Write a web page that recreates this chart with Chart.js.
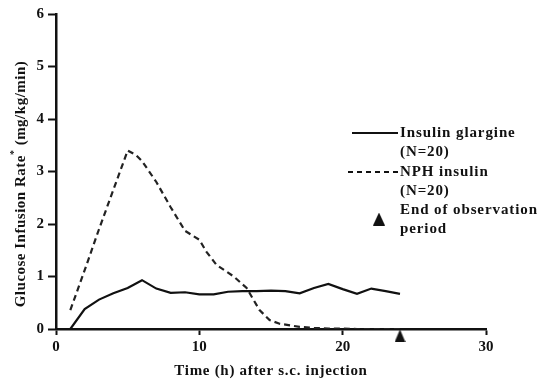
<!DOCTYPE html>
<html>
<head>
<meta charset="utf-8">
<script src="https://cdn.jsdelivr.net/npm/chart.js@4/dist/chart.umd.min.js"></script>
<style>
html,body{margin:0;padding:0;background:#fff;}
#c{display:block;}
</style>
</head>
<body>
<canvas id="c" width="540" height="381"></canvas>
<script>
const hours = [0,1,2,3,4,5,6,7,8,9,10,11,12,13,14,15,16,17,18,19,20,21,22,23,24];
const glargine = [0,0,0.38,0.56,0.68,0.78,0.93,0.77,0.69,0.70,0.66,0.66,0.71,0.72,0.72,0.73,0.72,0.68,0.78,0.86,0.76,0.67,0.77,0.72,0.67];
const nphHours = [1,2,3,4,5,5.6,6,7,8,9,10,10.5,11.2,12.4,13.3,14.2,14.9,15.6,17,18,19,20,21,22,23,24];
const nph = [0.36,1.12,1.90,2.65,3.40,3.31,3.20,2.80,2.32,1.87,1.70,1.47,1.22,1.00,0.78,0.36,0.17,0.10,0.04,0.02,0.01,0.01,0,0,0,0];
const endObservation = [{x:24, y:-0.13}];
const xTicks = [0,10,20,30];
const yTicks = [0,1,2,3,4,5,6];
const legendItems = [
  {kind:'solid', lines:['Insulin glargine','(N=20)']},
  {kind:'dash', lines:['NPH insulin','(N=20)']},
  {kind:'tri', lines:['End of observation','period']}
];
const xTitle = 'Time (h) after s.c. injection';
const yTitleParts = ['Glucose Infusion Rate', '*', ' (mg/kg/min)'];

const FONT = '"Liberation Serif", "Times New Roman", serif';

function makeTriangle(w, h) {
  const cv = document.createElement('canvas');
  cv.width = w; cv.height = h;
  const g = cv.getContext('2d');
  g.fillStyle = '#111';
  g.beginPath();
  g.moveTo(w/2, 0); g.lineTo(w, h); g.lineTo(0, h); g.closePath();
  g.fill();
  return cv;
}
const triImg = makeTriangle(11, 13);

const overlay = {
  id:'overlay',
  afterDraw(chart){
    const ctx = chart.ctx;
    ctx.save();
    ctx.fillStyle = '#111';
    ctx.strokeStyle = '#111';
    const ca = chart.chartArea;
    // x title
    ctx.font = 'bold 15px ' + FONT;
    ctx.letterSpacing = '0.7px';
    ctx.textAlign = 'center';
    ctx.textBaseline = 'middle';
    ctx.fillText(xTitle, (ca.left + ca.right)/2, 371);
    // y title rotated
    ctx.save();
    ctx.translate(21, 184);
    ctx.rotate(-Math.PI/2);
    ctx.letterSpacing = '0.5px';
    ctx.textAlign = 'left';
    ctx.font = 'bold 15px ' + FONT;
    const w0 = ctx.measureText(yTitleParts[0]).width;
    ctx.font = 'bold 10px ' + FONT;
    const w1 = ctx.measureText(yTitleParts[1]).width;
    ctx.font = 'bold 15px ' + FONT;
    const w2 = ctx.measureText(yTitleParts[2]).width;
    let x = -(w0 + w1 + w2)/2;
    ctx.fillText(yTitleParts[0], x, 0); x += w0;
    ctx.font = 'bold 10px ' + FONT;
    ctx.fillText(yTitleParts[1], x, -7); x += w1;
    ctx.font = 'bold 15px ' + FONT;
    ctx.fillText(yTitleParts[2], x, 0);
    ctx.restore();
    // legend
    ctx.font = 'bold 15px ' + FONT;
    ctx.letterSpacing = '0.9px';
    ctx.textAlign = 'left';
    ctx.textBaseline = 'middle';
    const rows = [133, 172, 210];
    legendItems.forEach((item, k) => {
      const y = rows[k];
      if (item.kind === 'solid') {
        ctx.lineWidth = 2; ctx.setLineDash([]);
        ctx.beginPath(); ctx.moveTo(352, y); ctx.lineTo(398, y); ctx.stroke();
      } else if (item.kind === 'dash') {
        ctx.lineWidth = 2; ctx.setLineDash([5,4]);
        ctx.beginPath(); ctx.moveTo(348, y); ctx.lineTo(398, y); ctx.stroke();
        ctx.setLineDash([]);
      } else {
        ctx.drawImage(makeTriangle(12, 13), 379 - 6, 219 - 6.5);
      }
      item.lines.forEach((t, i) => ctx.fillText(t, 400, y + i*19.5));
    });
    ctx.restore();
  }
};

const tickFont = {family: FONT, size: 15, weight: 'bold'};

new Chart(document.getElementById('c'), {
  type: 'line',
  data: {
    datasets: [
      {
        label: 'Insulin glargine (N=20)',
        data: hours.map((h,i)=>({x:h, y:glargine[i]})),
        borderColor: '#111', borderWidth: 2.2, pointRadius: 0, tension: 0, fill: false
      },
      {
        label: 'NPH insulin (N=20)',
        data: nphHours.map((h,i)=>({x:h, y:nph[i]})),
        borderColor: '#222', borderWidth: 2.2, borderDash: [6,4], pointRadius: 0, tension: 0, fill: false
      },
      {
        label: 'End of observation period',
        type: 'scatter',
        data: endObservation,
        pointStyle: triImg, pointRadius: 6,
        clip: false
      }
    ]
  },
  options: {
    responsive: false,
    animation: false,
    devicePixelRatio: 1,
    layout: {padding: {left: 0, top: 14, right: 54, bottom: 0}},
    plugins: {legend: {display: false}, tooltip: {enabled: false}},
    scales: {
      x: {
        type: 'linear', min: 0, max: 30,
        afterFit(s){ s.height = 52; },
        afterBuildTicks(s){ s.ticks = xTicks.map(v=>({value:v})); },
        ticks: {font: tickFont, color: '#111', padding: 3, maxRotation: 0},
        grid: {drawOnChartArea: false, drawTicks: true, tickLength: 6, tickWidth: 2, tickColor: '#111'},
        border: {color: '#111', width: 2.5}
      },
      y: {
        type: 'linear', min: 0, max: 6,
        afterFit(s){ s.width = 56; },
        afterBuildTicks(s){ s.ticks = yTicks.map(v=>({value:v})); },
        ticks: {font: tickFont, color: '#111', padding: 4},
        grid: {drawOnChartArea: false, drawTicks: true, tickLength: 8, tickWidth: 2, tickColor: '#111'},
        border: {color: '#111', width: 2.5}
      }
    }
  },
  plugins: [overlay, {id:'bg', beforeDraw(c){const x=c.ctx; x.save(); x.fillStyle='#fff'; x.fillRect(0,0,c.width,c.height); x.restore();}}]
});
</script>
</body>
</html>
